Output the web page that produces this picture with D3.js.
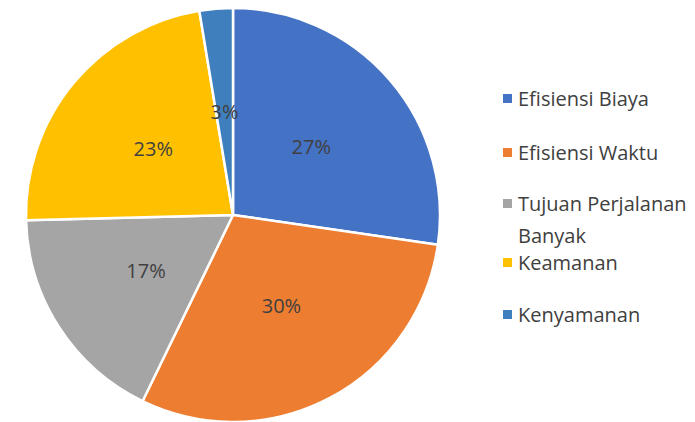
<!DOCTYPE html>
<html>
<head>
<meta charset="utf-8">
<script src="https://cdn.jsdelivr.net/npm/d3@7"></script>
<style>
  body { margin: 0; background: #fff; }
  text { font-family: "Open Sans", sans-serif; fill: #404040; }
</style>
</head>
<body>
<div id="chart"></div>
<script>
// data
const categories = ["Efisiensi Biaya", "Efisiensi Waktu", "Tujuan Perjalanan Banyak", "Keamanan", "Kenyamanan"];
const values = [27.3, 29.9, 17.4, 22.8, 2.6];
const legendLines = [["Efisiensi Biaya"], ["Efisiensi Waktu"], ["Tujuan Perjalanan", "Banyak"], ["Keamanan"], ["Kenyamanan"]];
const colors = ["#4472c4", "#ed7d31", "#a5a5a5", "#ffc000", "#3f7fbd"];

const width = 695, height = 422;
const cx = 233, cy = 215, radius = 207;

const svg = d3.select("#chart")
  .append("svg")
  .attr("width", width)
  .attr("height", height);

const pie = d3.pie().sort(null).value(d => d);
const arcs = pie(values);

const arc = d3.arc().innerRadius(0).outerRadius(radius);
const labelArc = d3.arc().innerRadius(radius * 0.5).outerRadius(radius * 0.5);

const g = svg.append("g").attr("transform", `translate(${cx},${cy})`);

g.selectAll("path")
  .data(arcs)
  .enter()
  .append("path")
    .attr("d", arc)
    .attr("fill", (d, i) => colors[i])
    .attr("stroke", "#fff")
    .attr("stroke-width", 2.5)
    .attr("stroke-linejoin", "round");

g.selectAll("text.lbl")
  .data(arcs)
  .enter()
  .append("text")
    .attr("class", "lbl")
    .attr("transform", d => `translate(${labelArc.centroid(d)})`)
    .attr("text-anchor", "middle")
    .attr("dy", "0.35em")
    .style("font-size", "20px")
    .text(d => Math.round(d.data) + "%");

// Legend
const legendY = [99, 153, 204, 263, 315];
const legend = svg.append("g").attr("transform", "translate(503,0)");

const items = legend.selectAll("g")
  .data(categories)
  .enter()
  .append("g")
    .attr("transform", (d, i) => `translate(0,${legendY[i]})`);

items.append("rect")
  .attr("x", 0)
  .attr("y", -5)
  .attr("width", 9)
  .attr("height", 9)
  .attr("fill", (d, i) => colors[i]);

items.append("text")
  .style("font-size", "20px")
  .selectAll("tspan")
  .data((d, i) => legendLines[i])
  .enter()
  .append("tspan")
    .attr("x", 15)
    .attr("dy", (d, j) => j === 0 ? "0.35em" : "32px")
    .text(d => d);
</script>
</body>
</html>
